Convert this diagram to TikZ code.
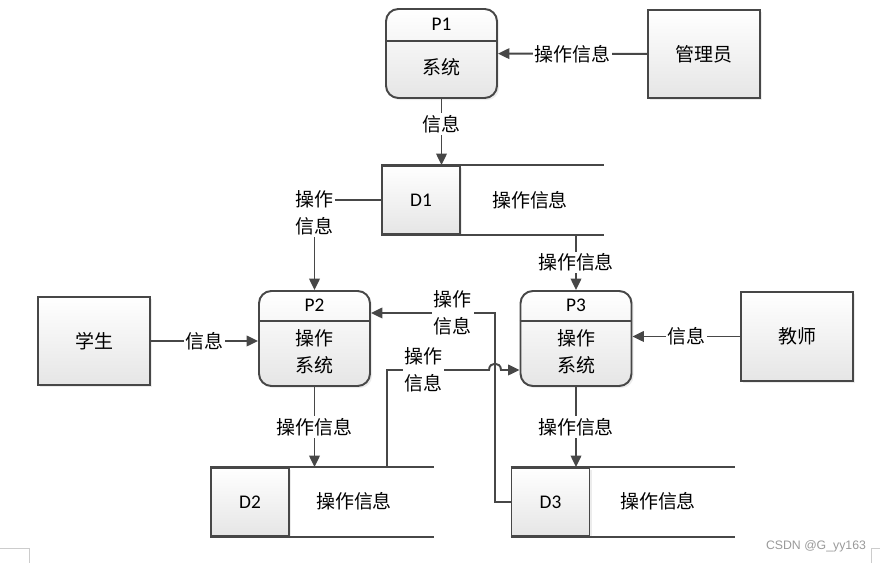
\documentclass[tikz,border=0pt]{standalone}
\usepackage{fontspec}
\setmainfont{Noto Sans CJK SC}
\newfontfamily\latin{Carlito}
\newfontfamily\wmfont{Liberation Sans}
\usetikzlibrary{positioning,shadows,arrows.meta}

\begin{document}
\begin{tikzpicture}[x=0.02cm, y=-0.02cm, line width=1.1pt,
  font=\fontsize{10.8}{15.4}\selectfont,
  box/.style={draw=black!72, top color=white, bottom color=black!10,
    drop shadow={opacity=0.15, shadow xshift=1.2pt, shadow yshift=-1.2pt}},
  proc/.style={box, rounded corners=7pt, minimum width=2.22cm, minimum height=1.9cm},
  ent/.style={box, minimum width=2.24cm, minimum height=1.76cm},
  store/.style={box, minimum width=1.56cm, minimum height=1.36cm, font=\latin\fontsize{11}{13}\selectfont},
  pid/.style={font=\latin\fontsize{11}{13}\selectfont},
  flow/.style={draw=black!72, -{Triangle[length=6.5pt, width=6pt]}},
  lbl/.style={fill=white, inner sep=1pt, align=center}
]
\useasboundingbox (0,0) rectangle (880,563);

% processes
\node[proc, minimum height=1.78cm] (p1) at (441.5,53.5) {};
\node[pid] (p1n) at ([yshift=-0.32cm]p1.north) {P1};
\draw[black!72] ([yshift=-0.66cm]p1.north west) -- ([yshift=-0.66cm]p1.north east);
\node (p1b) at ([yshift=0.64cm]p1.south) {系统};

\node[proc] (p2) at (314.5,338.5) {};
\node[pid] (p2n) at ([yshift=-0.3cm]p2.north) {P2};
\draw[black!72] ([yshift=-0.62cm]p2.north west) -- ([yshift=-0.62cm]p2.north east);
\node[align=center] (p2b) at ([yshift=0.71cm]p2.south) {操作\\系统};

\node[proc] (p3) at (576,338.5) {};
\node[pid] (p3n) at ([yshift=-0.3cm]p3.north) {P3};
\draw[black!72] ([yshift=-0.62cm]p3.north west) -- ([yshift=-0.62cm]p3.north east);
\node[align=center] (p3b) at ([yshift=0.71cm]p3.south) {操作\\系统};

% external entities
\node[ent] (adm) at (704,54) {管理员};
\node[ent] (stu) at (94,341) {学生};
\node[ent, minimum height=1.78cm] (tea) at (797,336.5) {教师};

% data stores
\node[store] (d1) at (421,200) {D1};
\draw[black!72] (d1.north west) -- ++(223,0);
\draw[black!72] (d1.south west) -- ++(223,0);
\node (d1t) at (530,200) {操作信息};

\node[store] (d2) at (250,502) {D2};
\draw[black!72] (d2.north west) -- ++(224,0);
\draw[black!72] (d2.south west) -- ++(224,0);
\node (d2t) at (354,501) {操作信息};

\node[store] (d3) at (550.5,502) {D3};
\draw[black!72] (d3.north west) -- ++(224,0);
\draw[black!72] (d3.south west) -- ++(224,0);
\node (d3t) at (658,501) {操作信息};

% flows
\draw[flow] (adm) -- node[lbl]{操作信息} (p1);
\draw[flow] (p1) -- node[lbl, pos=0.38]{信息} (p1 |- d1.north);
\draw[flow] (d1) -| node[lbl, pos=0.57]{操作\\信息} (p2);
\draw[flow] (d1.south -| p3) -- node[lbl]{操作信息} (p3);
\draw[flow] (stu) -- node[lbl]{信息} (stu -| p2.west);
\draw[flow] (tea) -- node[lbl]{信息} (tea -| p3.east);
\draw[flow] (p2) -- node[lbl]{操作信息} (p2 |- d2.north);
\draw[flow] (p3) -- node[lbl]{操作信息} (p3 |- d3.north);

\coordinate (c1) at (495,313);
\coordinate (c2) at (387,370);
\coordinate (cx) at (c1 |- c2);
\draw[flow] (d3) -| (c1) -- node[lbl, pos=0.34]{操作\\信息} (c1 -| p2.east);
\draw[flow] (c2 |- d2.north) -- (c2) -- node[lbl, pos=0.36]{操作\\信息} ([xshift=-0.12cm]cx)
  .. controls ([shift={(-0.12cm,0.17cm)}]cx) and ([shift={(0.12cm,0.17cm)}]cx) .. ([xshift=0.12cm]cx)
  -- (c2 -| p3.west);

% page marks
\draw[gray!40, line width=0.5pt] (0,548) -- (29,548) -- (29,563);
\draw[gray!40, line width=0.5pt] (880,548) -- (871,548) -- (871,563);
\node[font=\wmfont\fontsize{7}{8}\selectfont, text=gray!80] (wm) at (816,546) {CSDN @G\_yy163};
\end{tikzpicture}
\end{document}
